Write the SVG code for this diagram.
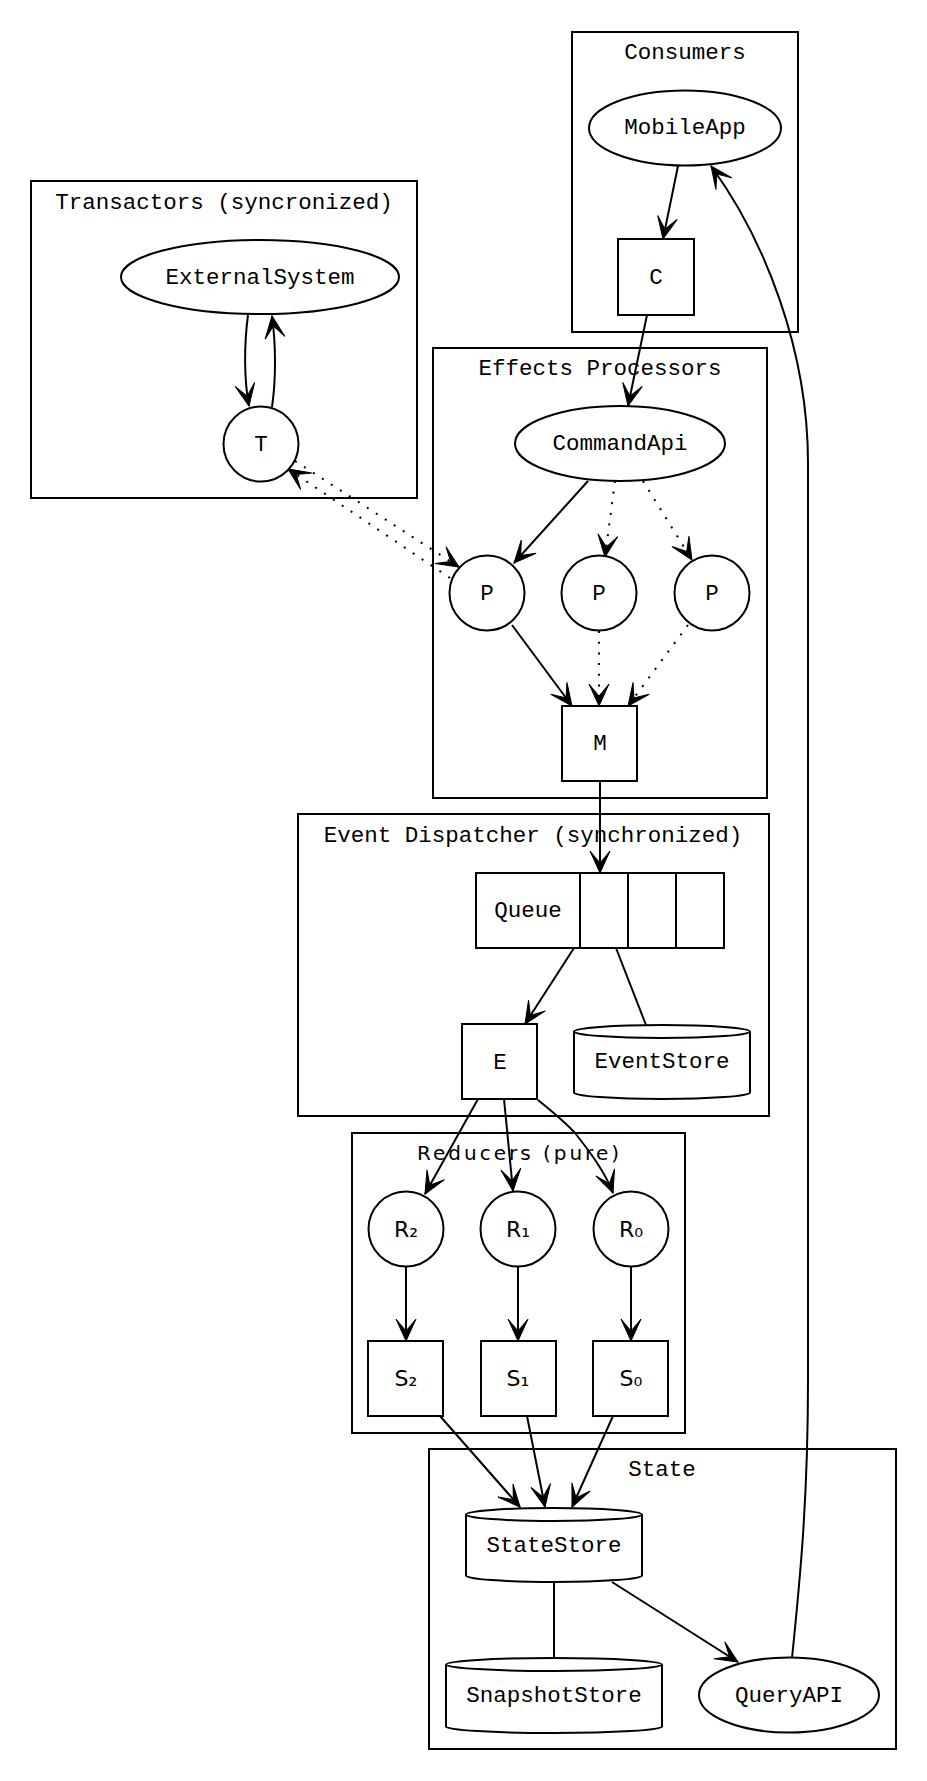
<svg xmlns="http://www.w3.org/2000/svg" width="927" height="1781" viewBox="0 0 927 1781">
<style>
.cl{fill:none;stroke:#000;stroke-width:2}
.nd{fill:#fff;stroke:#000;stroke-width:2}
.t{font-family:"Liberation Mono","DejaVu Sans Mono",monospace;font-size:22.5px;text-anchor:middle;fill:#000}
.s{font-family:"DejaVu Sans","Noto Sans",sans-serif;font-size:20px;text-anchor:middle;fill:#000}
.sl{font-family:"DejaVu Sans","Noto Sans",sans-serif;font-size:22px;text-anchor:middle;fill:#000}
.e{fill:none;stroke:#000;stroke-width:2}
.a{marker-end:url(#arr)}
.d{stroke-dasharray:2 8.7}
</style>
<defs>
<marker id="arr" viewBox="-24 -12 26 24" refX="0" refY="0" markerWidth="26" markerHeight="24" markerUnits="userSpaceOnUse" orient="auto">
<path d="M0,0 L-22,-10 L-10,0 L-22,10 Z" fill="#000" stroke="#000" stroke-width="1"/>
</marker>
</defs>
<rect width="927" height="1781" fill="#fff"/>

<g id="cluster-transactors">
<rect class="cl" x="31" y="181" width="386" height="317"/>
<text class="t" x="224" y="209">Transactors (syncronized)</text>
</g>
<g id="cluster-consumers">
<rect class="cl" x="572" y="32" width="226" height="300"/>
<text class="t" x="685" y="59">Consumers</text>
</g>
<g id="cluster-effects">
<rect class="cl" x="433" y="348" width="334" height="450"/>
<text class="t" x="600" y="375">Effects Processors</text>
</g>
<g id="cluster-dispatcher">
<rect class="cl" x="298" y="814" width="471" height="302"/>
<text class="t" x="533" y="842">Event Dispatcher (synchronized)</text>
</g>
<g id="cluster-reducers">
<rect class="cl" x="352" y="1133" width="333" height="300"/>
<text class="s" x="518" y="1160" textLength="202" lengthAdjust="spacing">Reducers (pure)</text>
</g>
<g id="cluster-state">
<rect class="cl" x="429" y="1449" width="467" height="300"/>
<text class="t" x="662" y="1476">State</text>
</g>

<g id="edges">
<path class="e a" d="M248,315 C244,345 244,380 249,406"/>
<path class="e a" d="M272,407 C276,380 276,345 272,316"/>
<path class="e a" d="M678,166 L663,239"/>
<path class="e a" d="M647,315 L628,406"/>
<path class="e a" d="M588,481 L514,563"/>
<path class="e a d" d="M615,481 L605,557"/>
<path class="e a d" d="M643,481 L692,560"/>
<path class="e a d" d="M295,461 L459,567"/>
<path class="e a d" d="M450,578 L288,469"/>
<path class="e a" d="M512,625 L572,706"/>
<path class="e a d" d="M599,631 L599,706"/>
<path class="e a d" d="M688,625 L628,706"/>
<path class="e a" d="M600,781 L600,873"/>
<path class="e a" d="M574,948 L525,1024"/>
<path class="e" d="M616,948 L646,1025"/>
<path class="e a" d="M478,1099 L425,1194"/>
<path class="e a" d="M504,1099 L513,1191"/>
<path class="e a" d="M538,1100 C550,1110 563,1120 575,1133 C590,1152 605,1172 613,1193"/>
<path class="e a" d="M406,1267 L406,1341"/>
<path class="e a" d="M518,1267 L518,1341"/>
<path class="e a" d="M631,1267 L631,1341"/>
<path class="e a" d="M440,1416 L520,1507"/>
<path class="e a" d="M527,1416 L545,1507"/>
<path class="e a" d="M613,1416 L572,1507"/>
<path class="e" d="M554,1583 L554,1658"/>
<path class="e a" d="M612,1582 L738,1662"/>
<path class="e a" d="M792,1658 C800,1580 808,1500 808,1380 L808,463 C808,350 765,240 711,166"/>
</g>

<g id="node-externalsystem">
<ellipse class="nd" cx="260" cy="277" rx="139" ry="37"/>
<text class="t" x="260" y="284">ExternalSystem</text>
</g>
<g id="node-t">
<circle class="nd" cx="261" cy="444" r="37.5"/>
<text class="t" x="261" y="451">T</text>
</g>
<g id="node-mobileapp">
<ellipse class="nd" cx="685" cy="128" rx="96" ry="37.5"/>
<text class="t" x="685" y="134">MobileApp</text>
</g>
<g id="node-c">
<rect class="nd" x="618" y="239" width="76" height="76"/>
<text class="t" x="656" y="284">C</text>
</g>
<g id="node-commandapi">
<ellipse class="nd" cx="620" cy="443.5" rx="105" ry="37.5"/>
<text class="t" x="620" y="450">CommandApi</text>
</g>
<g id="node-p1">
<circle class="nd" cx="487" cy="593" r="37.5"/>
<text class="t" x="487" y="600">P</text>
</g>
<g id="node-p2">
<circle class="nd" cx="599" cy="593" r="37.5"/>
<text class="t" x="599" y="600">P</text>
</g>
<g id="node-p3">
<circle class="nd" cx="712" cy="593" r="37.5"/>
<text class="t" x="712" y="600">P</text>
</g>
<g id="node-m">
<rect class="nd" x="562" y="706" width="75" height="75"/>
<text class="t" x="600" y="750">M</text>
</g>
<g id="node-queue">
<rect class="nd" x="476" y="873" width="248" height="75"/>
<path class="e" d="M580,873 V948 M628,873 V948 M676,873 V948"/>
<text class="t" x="528" y="917">Queue</text>
</g>
<g id="node-e">
<rect class="nd" x="462" y="1024" width="75" height="75"/>
<text class="t" x="500" y="1069">E</text>
</g>
<g id="node-eventstore">
<path class="nd" d="M574,1031.5 L574,1092.5 A88,6.5 0 0 0 750,1092.5 L750,1031.5 A88,6.5 0 0 0 574,1031.5 Z M574,1031.5 A88,6.5 0 0 0 750,1031.5"/>
<text class="t" x="662" y="1068">EventStore</text>
</g>
<g id="node-r2">
<circle class="nd" cx="406" cy="1229" r="37.5"/>
<text class="sl" x="406" y="1237">R₂</text>
</g>
<g id="node-r1">
<circle class="nd" cx="518" cy="1229" r="37.5"/>
<text class="sl" x="518" y="1237">R₁</text>
</g>
<g id="node-r0">
<circle class="nd" cx="631" cy="1229" r="37.5"/>
<text class="sl" x="631" y="1237">R₀</text>
</g>
<g id="node-s2">
<rect class="nd" x="368" y="1341" width="75" height="75"/>
<text class="sl" x="406" y="1386">S₂</text>
</g>
<g id="node-s1">
<rect class="nd" x="481" y="1341" width="75" height="75"/>
<text class="sl" x="518" y="1386">S₁</text>
</g>
<g id="node-s0">
<rect class="nd" x="593" y="1341" width="75" height="75"/>
<text class="sl" x="631" y="1386">S₀</text>
</g>
<g id="node-statestore">
<path class="nd" d="M466,1514.5 L466,1575.5 A88,6.5 0 0 0 642,1575.5 L642,1514.5 A88,6.5 0 0 0 466,1514.5 Z M466,1514.5 A88,6.5 0 0 0 642,1514.5"/>
<text class="t" x="554" y="1552">StateStore</text>
</g>
<g id="node-snapshotstore">
<path class="nd" d="M446,1664.5 L446,1726.5 A108,6.5 0 0 0 662,1726.5 L662,1664.5 A108,6.5 0 0 0 446,1664.5 Z M446,1664.5 A108,6.5 0 0 0 662,1664.5"/>
<text class="t" x="554" y="1702">SnapshotStore</text>
</g>
<g id="node-queryapi">
<ellipse class="nd" cx="789" cy="1695" rx="90" ry="37.5"/>
<text class="t" x="789" y="1702">QueryAPI</text>
</g>
</svg>
